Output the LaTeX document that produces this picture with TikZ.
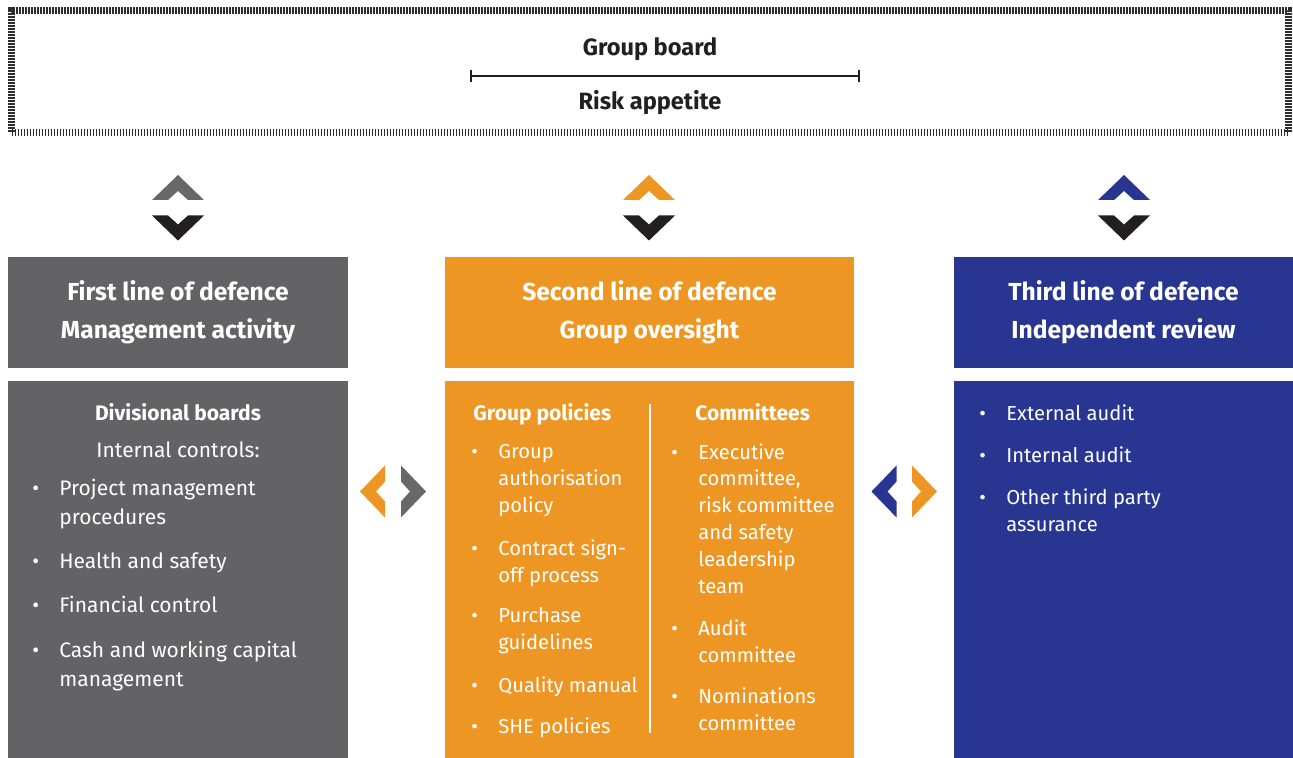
\documentclass[tikz,border=0pt]{standalone}
\usepackage{fontspec}
\setmainfont{Fira Sans}
\usetikzlibrary{arrows.meta}

\definecolor{firstgrey}{RGB}{99,99,101}
\definecolor{secondorange}{RGB}{237,150,35}
\definecolor{thirdblue}{RGB}{40,54,145}
\definecolor{chevdark}{RGB}{35,31,32}
\definecolor{chevgrey}{RGB}{104,104,106}
\definecolor{hatchgrey}{RGB}{45,45,45}

% bullet and hanging indent for the lists
\newcommand\bul{\makebox[13.5pt][l]{\textbullet}}
\newcommand\ind{\hspace*{13.5pt}}

\tikzset{
  hatchframe/.style={draw=hatchgrey, line width=3.5pt, dash pattern=on 0.8pt off 0.7pt},
  boardtext/.style={text=chevdark, inner sep=0pt, anchor=base, font=\bfseries\fontsize{11.8}{14}\selectfont},
  linehead/.style={fill=#1, text=white, minimum height=55.5pt, align=center, inner sep=0pt,
    font=\bfseries\fontsize{12.3}{19}\selectfont},
  linebody/.style={fill=#1, minimum height=188.5pt, inner sep=0pt},
  colhead/.style={text=white, inner sep=0pt, anchor=base west, font=\bfseries\fontsize{10.5}{13}\selectfont},
  % multi-line items sit on the baseline of their last line
  listitem/.style={text=white, inner sep=0pt, anchor=base west, align=left, font=\fontsize{10.5}{14.5}\selectfont},
  smallitem/.style={listitem, font=\fontsize{10.1}{13.4}\selectfont},
  pics/chev/.style={code={
    \fill[#1] (-26,-12.5) -- (0,12.5) -- (26,-12.5) -- (10,-12.5) -- (0,-3.5) -- (-10,-12.5) -- cycle;}},
}

\begin{document}
\begin{tikzpicture}[x=0.5pt, y=0.5pt]
  \useasboundingbox (0,0) rectangle (1293,-758);

  % group board frame
  \node[hatchframe, minimum width=638.5pt, minimum height=61pt, inner sep=0pt] (riskframe) at (650,-71.5) {};
  \path node[boardtext] (board) at (650,-56) {Group board}
        node[boardtext] (appetite) at (650,-110) {Risk appetite};
  \coordinate (barleft) at (470,-76.5);
  \coordinate (barright) at (860,-76.5);
  \draw[line width=1pt, {Bar[width=6pt]}-{Bar[width=6pt]}, chevdark] (barleft) -- (barright);

  % chevrons between board and the three lines
  \pic at (178,-187.5) {chev=chevgrey};
  \pic[rotate=180] at (178,-228) {chev=chevdark};
  \pic at (649,-187.5) {chev=secondorange};
  \pic[rotate=180] at (649,-228) {chev=chevdark};
  \pic at (1124,-187.5) {chev=thirdblue};
  \pic[rotate=180] at (1124,-228) {chev=chevdark};

  % the three lines of defence
  \path node[linehead=firstgrey, minimum width=170pt] (first) at (178,-312.5)
          {First line of defence\\Management activity}
        node[linehead=secondorange, minimum width=204.5pt] (second) at (649.5,-312.5)
          {Second line of defence\\Group oversight}
        node[linehead=thirdblue, minimum width=169.5pt] (third) at (1123.5,-312.5)
          {Third line of defence\\Independent review};
  \path node[linebody=firstgrey, minimum width=170pt] (firstbody) at (178,-569.5) {}
        node[linebody=secondorange, minimum width=204.5pt] (secondbody) at (649.5,-569.5) {}
        node[linebody=thirdblue, minimum width=169.5pt] (thirdbody) at (1123.5,-569.5) {};

  % sideways chevrons between the bodies
  \pic[rotate=90] at (372.5,-491.5) {chev=secondorange};
  \pic[rotate=-90] at (413.5,-491.5) {chev=chevgrey};
  \pic[rotate=90] at (884,-491.5) {chev=thirdblue};
  \pic[rotate=-90] at (924.5,-491.5) {chev=secondorange};

  % first line
  \node[colhead, anchor=base] (divisional) at (178,-420) {Divisional boards};
  \node[listitem, anchor=base] (internal) at (178,-457) {Internal controls:};
  \node[listitem] (project) at (32,-524) {\bul Project management\\\ind procedures};
  \node[listitem] (health) at (32,-568) {\bul Health and safety};
  \node[listitem] (financial) at (32,-612) {\bul Financial control};
  \node[listitem] (cash) at (32,-686) {\bul Cash and working capital\\\ind management};

  % second line
  \node[colhead] (policies) at (473,-420) {Group policies};
  \node[smallitem] (authorisation) at (471,-512) {\bul Group\\\ind authorisation\\\ind policy};
  \node[smallitem] (signoff) at (471,-582) {\bul Contract sign-\\\ind off process};
  \node[smallitem] (purchase) at (471,-649) {\bul Purchase\\\ind guidelines};
  \node[smallitem] (quality) at (471,-692) {\bul Quality manual};
  \node[smallitem] (she) at (471,-733) {\bul SHE policies};
  \draw[white, line width=1pt] (650,-404) -- (650,-733);
  \node[colhead] (committees) at (695,-420) {Committees};
  \node[smallitem] (executive) at (671,-593)
    {\bul Executive\\\ind committee,\\\ind risk committee\\\ind and safety\\\ind leadership\\\ind team};
  \node[smallitem] (audit) at (671,-662) {\bul Audit\\\ind committee};
  \node[smallitem] (nominations) at (671,-730) {\bul Nominations\\\ind committee};

  % third line
  \node[smallitem] (external) at (979,-420) {\bul External audit};
  \node[smallitem] (internalaudit) at (979,-462) {\bul Internal audit};
  \node[smallitem] (thirdparty) at (979,-531) {\bul Other third party\\\ind assurance};
\end{tikzpicture}
\end{document}
